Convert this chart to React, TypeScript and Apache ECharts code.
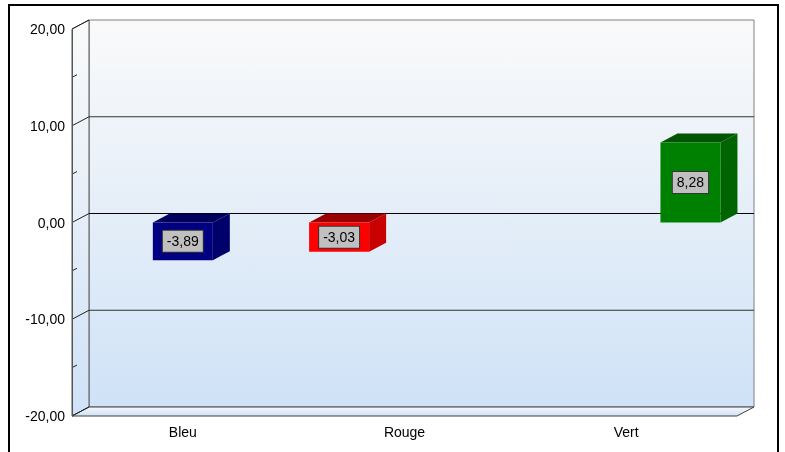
import React, { useEffect, useRef } from "react";
import * as echarts from "echarts";

const categories = ["Bleu", "Rouge", "Vert"];
const values = [-3.89, -3.03, 8.28];
const frontColors = ["#000080", "#ff0000", "#008000"];
const topColors = ["#00005c", "#990000", "#005500"];
const sideColors = ["#00006a", "#c80000", "#006400"];
const yMin = -20;
const yMax = 20;
const yInterval = 10;
const yMinorInterval = 5;

const DX = 17;
const DY = -9;
const BAR_OFFSETS = [0, -0.295, 0.29];
const BAR_WIDTH = 60;
const FONT = "Arial, 'Liberation Sans', sans-serif";

const fmt = (v: number) => v.toFixed(2).replace(".", ",");

export default function App() {
  const ref = useRef<HTMLDivElement>(null);
  useEffect(() => {
    if (!ref.current) return;
    const chart = echarts.init(ref.current, undefined, { renderer: "svg" });
    const majorTicks: number[] = [];
    for (let v = yMin; v <= yMax; v += yInterval) majorTicks.push(v);
    const minorTicks: number[] = [];
    for (let v = yMin + yMinorInterval; v < yMax; v += yInterval) minorTicks.push(v);

    const frameRender = (params: any, api: any) => {
      const cs = params.coordSys;
      const x0 = cs.x;
      const x1 = cs.x + cs.width;
      const y0 = cs.y;
      const y1 = cs.y + cs.height;
      const children: any[] = [];
      const wallGrad = new echarts.graphic.LinearGradient(0, 0, 0, 1, [
        { offset: 0, color: "#fafafa" },
        { offset: 1, color: "#cfe2f7" },
      ]);
      children.push({
        type: "rect",
        shape: { x: x0 + DX, y: y0 + DY, width: cs.width, height: cs.height },
        style: { fill: wallGrad, stroke: "#808080", lineWidth: 1 },
      });
      children.push({
        type: "polygon",
        shape: { points: [[x0, y0], [x0 + DX, y0 + DY], [x0 + DX, y1 + DY], [x0, y1]] },
        style: {
          fill: new echarts.graphic.LinearGradient(0, 0, 0, 1, [
            { offset: 0, color: "#fafafa" },
            { offset: 1, color: "#cfe2f7" },
          ]),
          stroke: "#555",
          lineWidth: 1,
        },
      });
      children.push({
        type: "polygon",
        shape: { points: [[x0, y1], [x0 + DX, y1 + DY], [x1 + DX, y1 + DY], [x1, y1]] },
        style: {
          fill: new echarts.graphic.LinearGradient(0, 0, 0, 1, [
            { offset: 0, color: "#f4f8fc" },
            { offset: 1, color: "#cfe0f4" },
          ]),
          stroke: "#404040",
          lineWidth: 1,
        },
      });
      majorTicks.forEach((v) => {
        const y = api.coord([0, v])[1];
        if (v > yMin && v < yMax) {
          children.push({
            type: "line",
            shape: { x1: x0 + DX, y1: y + DY, x2: x1 + DX, y2: y + DY },
            style: { stroke: v === 0 ? "#000" : "#333", lineWidth: 1 },
          });
        }
        children.push({
          type: "line",
          shape: { x1: x0, y1: y, x2: x0 + DX, y2: y + DY },
          style: { stroke: "#222", lineWidth: 1 },
        });
      });
      minorTicks.forEach((v) => {
        const y = api.coord([0, v])[1];
        children.push({
          type: "line",
          shape: { x1: x0, y1: y, x2: x0 + 5, y2: y - 2.6 },
          style: { stroke: "#222", lineWidth: 1 },
        });
      });
      return { type: "group", children };
    };

    const barRender = (params: any, api: any) => {
      const idx = api.value(0);
      const val = api.value(1);
      const band = api.size([1, 0])[0];
      const base = api.coord([idx, 0]);
      const top = api.coord([idx, val]);
      const cx = base[0] + BAR_OFFSETS[idx] * band;
      const xl = cx - BAR_WIDTH / 2;
      const xr = cx + BAR_WIDTH / 2;
      const yt = Math.min(base[1], top[1]);
      const yb = Math.max(base[1], top[1]);
      return {
        type: "group",
        children: [
          {
            type: "polygon",
            shape: { points: [[xl, yt], [xl + DX, yt + DY], [xr + DX, yt + DY], [xr, yt]] },
            style: { fill: topColors[idx] },
          },
          {
            type: "polygon",
            shape: { points: [[xr, yt], [xr + DX, yt + DY], [xr + DX, yb + DY], [xr, yb]] },
            style: { fill: sideColors[idx] },
          },
          {
            type: "rect",
            shape: { x: xl, y: yt, width: BAR_WIDTH, height: yb - yt },
            style: { fill: frontColors[idx] },
          },
          {
            type: "text",
            style: {
              text: fmt(val),
              x: cx,
              y: (yt + yb) / 2,
              align: "center",
              verticalAlign: "middle",
              fontSize: 14,
              fontFamily: FONT,
              fill: "#000",
              backgroundColor: "#c0c0c0",
              borderColor: "#333",
              borderWidth: 1,
              padding: [3, 4, 3, 4],
              lineHeight: 15,
            },
          },
        ],
      };
    };

    chart.setOption({
      animation: false,
      graphic: [
        {
          type: "rect",
          shape: { x: 9, y: 5, width: 769, height: 470 },
          style: { fill: "none", stroke: "#000", lineWidth: 2 },
          z: 100,
        },
      ],
      grid: { left: 72, right: 48, top: 29, bottom: 36 },
      xAxis: {
        type: "category",
        data: categories,
        axisLine: { show: false },
        axisTick: { show: false },
        axisLabel: { color: "#000", fontSize: 14, fontFamily: FONT, margin: 9 },
        splitLine: { show: false },
      },
      yAxis: {
        type: "value",
        min: yMin,
        max: yMax,
        interval: yInterval,
        axisLine: { show: true, lineStyle: { color: "#555" } },
        axisTick: { show: false },
        splitLine: { show: false },
        axisLabel: { color: "#000", fontSize: 14, fontFamily: FONT, margin: 7, formatter: (v: number) => fmt(v) },
        z: 10,
      },
      series: [
        {
          type: "custom",
          renderItem: frameRender,
          data: [[0, 0]],
          z: 1,
          silent: true,
        },
        {
          type: "custom",
          renderItem: barRender,
          data: values.map((v, i) => [i, v]),
          z: 5,
        },
      ],
    });
    return () => chart.dispose();
  }, []);
  return <div ref={ref} style={{ position: "fixed", left: 0, top: 0, width: 785, height: 452 }} />;
}
